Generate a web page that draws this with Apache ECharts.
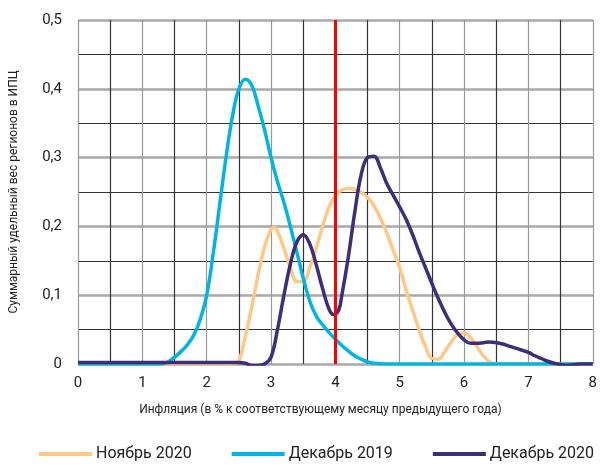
<!DOCTYPE html>
<html><head><meta charset="utf-8">
<script src="https://cdn.jsdelivr.net/npm/echarts@6/dist/echarts.min.js"></script>
<style>html,body{margin:0;padding:0;background:#fff}#c{width:600px;height:468px}</style>
</head><body><div id="c"></div>
<script>
// Ноябрь 2020
const novX = [0, 1, 2, 2.4, 2.5, 2.6, 2.7, 2.8, 2.9, 3.0, 3.05, 3.1, 3.2, 3.3, 3.4, 3.5, 3.6, 3.7, 3.8, 3.9, 4.0, 4.1, 4.2, 4.3, 4.4, 4.5, 4.6, 4.7, 4.8, 4.9, 5.0, 5.1, 5.2, 5.3, 5.4, 5.5, 5.6, 5.7, 5.8, 5.9, 6.0, 6.1, 6.2, 6.3, 6.4, 6.5, 7, 8];
const novY = [0, 0, 0, 0, 0.005, 0.04, 0.083, 0.13, 0.17, 0.196, 0.198, 0.193, 0.168, 0.14, 0.12, 0.12, 0.14, 0.168, 0.2, 0.228, 0.245, 0.253, 0.255, 0.254, 0.25, 0.242, 0.23, 0.212, 0.19, 0.165, 0.14, 0.107, 0.078, 0.05, 0.025, 0.008, 0.007, 0.018, 0.032, 0.043, 0.045, 0.038, 0.025, 0.012, 0.003, 0, 0, 0];
// Декабрь 2019
const dec19X = [0, 1, 1.3, 1.4, 1.5, 1.6, 1.7, 1.8, 1.9, 2.0, 2.1, 2.2, 2.3, 2.4, 2.5, 2.6, 2.7, 2.8, 2.9, 3.0, 3.1, 3.2, 3.3, 3.4, 3.5, 3.6, 3.7, 3.8, 3.9, 4.0, 4.1, 4.2, 4.3, 4.4, 4.5, 4.6, 4.8, 6, 8];
const dec19Y = [0, 0, 0, 0.003, 0.01, 0.018, 0.028, 0.042, 0.065, 0.1, 0.16, 0.23, 0.3, 0.36, 0.4, 0.414, 0.405, 0.375, 0.34, 0.3, 0.265, 0.235, 0.2, 0.163, 0.125, 0.092, 0.07, 0.057, 0.046, 0.036, 0.027, 0.019, 0.012, 0.007, 0.003, 0.001, 0, 0, 0];
// Декабрь 2020
const dec20X = [0, 1, 2, 2.5, 2.6, 2.7, 2.8, 2.9, 3.0, 3.1, 3.2, 3.3, 3.4, 3.5, 3.6, 3.7, 3.8, 3.9, 3.97, 4.05, 4.1, 4.2, 4.3, 4.4, 4.5, 4.6, 4.7, 4.8, 4.9, 5.0, 5.1, 5.2, 5.3, 5.4, 5.5, 5.6, 5.7, 5.8, 5.9, 6.0, 6.1, 6.2, 6.3, 6.4, 6.5, 6.6, 6.7, 6.8, 6.9, 7.0, 7.1, 7.2, 7.3, 7.4, 7.5, 7.6, 7.7, 7.8, 8];
const dec20Y = [0.002, 0.002, 0.002, 0.002, 0.001, -0.002, -0.002, 0, 0.01, 0.05, 0.1, 0.145, 0.177, 0.188, 0.175, 0.145, 0.11, 0.08, 0.072, 0.078, 0.1, 0.155, 0.22, 0.275, 0.3, 0.302, 0.285, 0.262, 0.245, 0.228, 0.21, 0.188, 0.163, 0.14, 0.117, 0.095, 0.075, 0.058, 0.045, 0.035, 0.03, 0.03, 0.031, 0.032, 0.031, 0.029, 0.026, 0.023, 0.02, 0.017, 0.012, 0.008, 0.004, 0.001, -0.001, -0.002, -0.001, 0, 0];
const seriesNames = ['Ноябрь 2020', 'Декабрь 2019', 'Декабрь 2020'];
const xTicks = [0, 1, 2, 3, 4, 5, 6, 7, 8];
const refX = 4;
const xName = 'Инфляция (в % к соответствующему месяцу предыдущего года)';
const yName = 'Суммарный удельный вес регионов в ИПЦ';

const colors = ['#FEC986', '#00B5E6', '#3C2E7A'];
const zip = (xs, ys) => xs.map((x, i) => [x, ys[i]]);
const font = 'Roboto, "Noto Sans", sans-serif';

const chart = echarts.init(document.getElementById('c'), null, {renderer: 'canvas'});
const mk = (name, data, color, z) => ({
  name, type: 'line', data, smooth: 0.4, showSymbol: false, symbol: 'none', z,
  lineStyle: {color, width: 3.5}, itemStyle: {color}
});
const s = [
  mk(seriesNames[0], zip(novX, novY), colors[0], 3),
  mk(seriesNames[1], zip(dec19X, dec19Y), colors[1], 4),
  mk(seriesNames[2], zip(dec20X, dec20Y), colors[2], 5)
];
s[2].markLine = {
  silent: true, symbol: ['none', 'none'], label: {show: false}, z: 10,
  lineStyle: {color: '#FF0000', width: 3, type: 'solid'},
  data: [{xAxis: refX}]
};
chart.setOption({
  animation: false,
  textStyle: {fontFamily: font},
  grid: {left: 78, right: 4, top: 20, bottom: 104},
  legend: {
    bottom: 1, left: 34, icon: 'rect', itemWidth: 53, itemHeight: 4, itemGap: 40,
    textStyle: {fontSize: 16, color: '#222', fontFamily: font, padding: [0, 0, 0, -1]},
    data: seriesNames
  },
  xAxis: {
    type: 'value', min: 0, max: 8, interval: 0.5,
    name: xName, nameLocation: 'middle', nameGap: 40,
    nameTextStyle: {fontSize: 12, color: '#222', padding: [0, 30, 0, 0]},
    axisLine: {show: false}, axisTick: {show: false},
    axisLabel: {fontSize: 15, color: '#222', margin: 12,
      formatter: v => xTicks.includes(v) ? String(v) : ''},
    splitLine: {show: true, lineStyle: {color: ['#999', '#333'], width: 1.2}}
  },
  yAxis: [{
    type: 'value', min: 0, max: 0.5, interval: 0.05,
    name: yName, nameLocation: 'middle', nameGap: 58, nameRotate: 90,
    nameTextStyle: {fontSize: 12, color: '#222'},
    axisLine: {show: false}, axisTick: {show: false},
    axisLabel: {fontSize: 15, color: '#222', margin: 16,
      formatter: v => {
        const t = Math.round(v * 100);
        if (t % 10 !== 0) return '';
        return String(t / 100).replace('.', ',');
      }},
    splitLine: {show: true, lineStyle: {color: '#333', width: 1}}
  }, {
    type: 'value', min: 0, max: 0.5, interval: 0.1, position: 'left',
    axisLine: {show: false}, axisTick: {show: false}, axisLabel: {show: false},
    splitLine: {show: true, lineStyle: {color: '#A8A8A8', width: 2.5}}
  }],
  series: s
});
</script></body></html>
